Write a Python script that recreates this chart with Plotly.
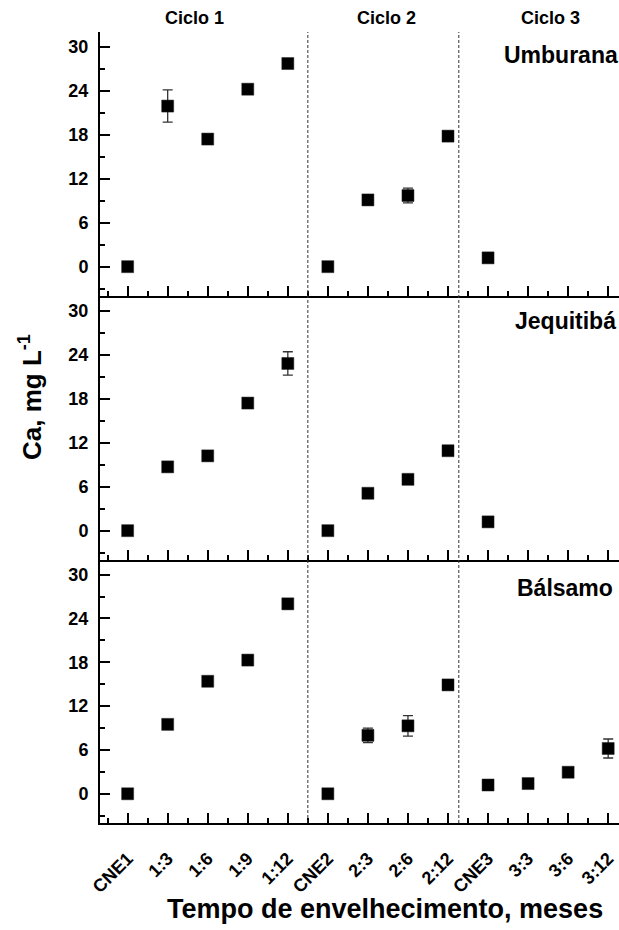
import plotly.graph_objects as go

# ---------------- data ----------------
labels = ["CNE1", "1:3", "1:6", "1:9", "1:12", "CNE2", "2:3", "2:6", "2:12",
          "CNE3", "3:3", "3:6", "3:12"]
positions = list(range(len(labels)))

umburana_x = positions[:10]
umburana = [0.0, 21.9, 17.4, 24.2, 27.7, 0.0, 9.1, 9.7, 17.8, 1.2]
umburana_err = [0.0, 2.2, 0.3, 0.3, 0.4, 0.0, 0.3, 1.0, 0.3, 0.2]

jequitiba_x = positions[:10]
jequitiba = [0.0, 8.7, 10.2, 17.4, 22.8, 0.0, 5.1, 7.0, 10.9, 1.2]
jequitiba_err = [0.0, 0.3, 0.4, 0.3, 1.6, 0.0, 0.3, 0.3, 0.3, 0.2]

balsamo_x = positions
balsamo = [0.0, 9.5, 15.4, 18.3, 26.0, 0.0, 8.0, 9.3, 14.9, 1.2, 1.4, 2.95, 6.2]
balsamo_err = [0.0, 0.3, 0.3, 0.3, 0.7, 0.0, 1.0, 1.4, 0.3, 0.2, 0.2, 0.3, 1.3]

panel_names = ["Umburana", "Jequitibá", "Bálsamo"]
cycle_names = ["Ciclo 1", "Ciclo 2", "Ciclo 3"]
cycle_label_x = [1.68, 6.47, 10.55]
cycle_breaks = [4.5, 8.27]

# ---------------- style ----------------
FONT = "Liberation Sans, Arial, sans-serif"
W, H = 619, 930
ML, MR, MT, MB = 100, 0, 32, 107
XR = [-0.69, 12.27]
YR = [-4, 32]
d1, d2 = 0.33249, 0.66625


def px_x(p):
    return (p - ML) / (W - ML - MR)


def px_y(p):
    return (H - MB - p) / (H - MT - MB)


marker = dict(symbol="square", size=12, color="black",
              line=dict(color="#222", width=0.5))


def err(a):
    return dict(type="data", array=a, visible=True, color="#333",
                thickness=1.3, width=5)


fig = go.Figure()
fig.add_trace(go.Scatter(x=umburana_x, y=umburana, mode="markers", marker=marker,
                         error_y=err(umburana_err), xaxis="x3", yaxis="y",
                         showlegend=False, cliponaxis=False))
fig.add_trace(go.Scatter(x=jequitiba_x, y=jequitiba, mode="markers", marker=marker,
                         error_y=err(jequitiba_err), xaxis="x2", yaxis="y2",
                         showlegend=False, cliponaxis=False))
fig.add_trace(go.Scatter(x=balsamo_x, y=balsamo, mode="markers", marker=marker,
                         error_y=err(balsamo_err), xaxis="x", yaxis="y3",
                         showlegend=False, cliponaxis=False))

xcommon = dict(range=XR, tickmode="array", tickvals=positions, ticktext=labels,
               ticks="inside", ticklen=10, tickwidth=1.5, tickcolor="black",
               minor=dict(ticks="inside", ticklen=5, tickwidth=1.5, tickcolor="black",
                          tickmode="linear", tick0=0.5, dtick=1),
               showline=True, linewidth=2, linecolor="black",
               showgrid=False, zeroline=False)

ycommon = dict(range=YR, tickmode="linear", tick0=0, dtick=6,
               ticks="inside", ticklen=10, tickwidth=1.5, tickcolor="black",
               minor=dict(ticks="inside", ticklen=5, tickwidth=1.5, tickcolor="black",
                          tickmode="linear", tick0=-3, dtick=3),
               showline=True, linewidth=2, linecolor="black",
               showgrid=False, zeroline=False,
               tickfont=dict(family=FONT, size=18, color="black", weight="bold"),
               ticklabelstandoff=6)

fig.update_layout(
    width=W, height=H,
    margin=dict(l=ML, r=MR, t=MT, b=MB),
    paper_bgcolor="white", plot_bgcolor="white",
    font=dict(family=FONT, color="black"),
    xaxis=dict(**xcommon, anchor="y3", domain=[0, 1], tickangle=-45,
               tickfont=dict(family=FONT, size=18, color="black", weight="bold"),
               ticklabelstandoff=16),
    xaxis2=dict(**xcommon, anchor="y2", domain=[0, 1], showticklabels=False),
    xaxis3=dict(**xcommon, anchor="y", domain=[0, 1], showticklabels=False),
    xaxis4=dict(range=XR, overlaying="x3", anchor="y", side="top",
                tickmode="linear", tick0=0, dtick=0.5, ticks="inside",
                ticklen=3, tickwidth=1, tickcolor="black", showticklabels=False,
                showline=True, linewidth=2, linecolor="black",
                showgrid=False, zeroline=False),
    yaxis=dict(**ycommon, anchor="x3", domain=[d2, 1]),
    yaxis2=dict(**ycommon, anchor="x2", domain=[d1, d2]),
    yaxis3=dict(**ycommon, anchor="x", domain=[0, d1]),
)

# separators between cycles
for xb in cycle_breaks:
    fig.add_shape(type="line", xref="x", yref="paper", x0=xb, x1=xb, y0=0, y1=1,
                  line=dict(color="#333", width=1, dash="3px,2px"))

ann = []
for name, xc in zip(cycle_names, cycle_label_x):
    ann.append(dict(text=name, xref="x", yref="paper", x=xc, y=px_y(18),
                    xanchor="center", yanchor="middle", showarrow=False,
                    font=dict(family=FONT, size=18, color="black", weight="bold")))

panel_pos = [(9.36, 28.8, "y"), (9.62, 28.6, "y2"), (9.68, 28.1, "y3")]
for name, (xp, yp, yr) in zip(panel_names, panel_pos):
    ann.append(dict(text=name, xref="x", yref=yr, x=xp, y=yp,
                    xanchor="left", yanchor="middle", showarrow=False,
                    font=dict(family=FONT, size=23, color="black", weight="bold")))

ann.append(dict(text="Ca, mg L<sup>-1</sup>", xref="paper", yref="paper",
                x=px_x(30), y=px_y(397), textangle=-90,
                xanchor="center", yanchor="middle", showarrow=False,
                font=dict(family=FONT, size=26, color="black", weight="bold")))
ann.append(dict(text="Tempo de envelhecimento, meses", xref="paper", yref="paper",
                x=px_x(385), y=px_y(909), xanchor="center", yanchor="middle",
                showarrow=False,
                font=dict(family=FONT, size=27, color="black", weight="bold")))

fig.update_layout(annotations=ann)

fig.write_html("out.html")
